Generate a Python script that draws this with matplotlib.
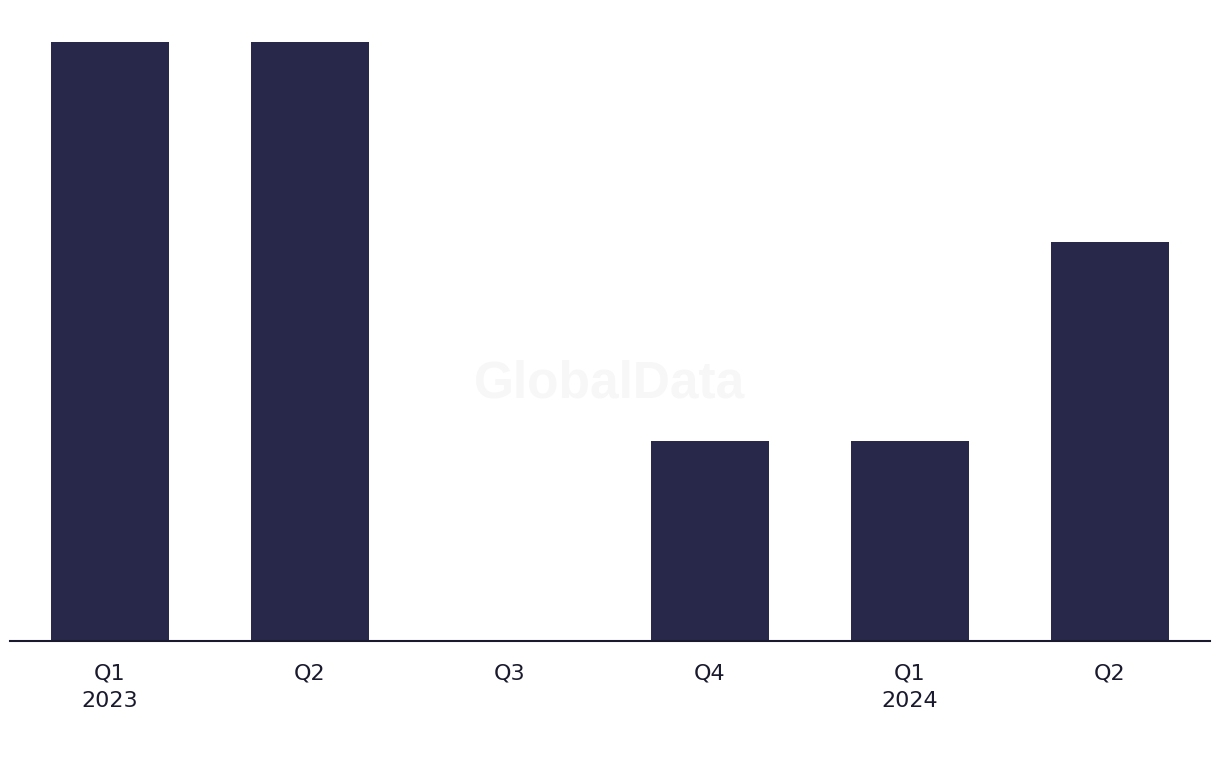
#libraries
import matplotlib
matplotlib.use("Agg")
import matplotlib.pyplot as plt

#data
quarters=["Q1\n2023","Q2","Q3","Q4","Q1\n2024","Q2"]
values=[3,3,0,1,1,2]

plt.rcParams["font.family"]=["DejaVu Sans"]

fig=plt.figure(figsize=(12.2,7.68),dpi=100)
ax=fig.add_axes([10/1220,127/768,1200/1220,599/768])
ax.bar(range(len(values)),values,width=0.59,color="#28284a")
ax.set_xlim(-0.5,len(values)-0.5)
ax.set_ylim(0,3)
ax.set_xticks(range(len(values)))
ax.set_xticklabels(quarters,fontsize=16,color="#1a1a2e",linespacing=1.5)
ax.tick_params(axis="x",length=0,pad=16)
ax.set_yticks([])
for side in ["top","left","right"]:
    ax.spines[side].set_visible(False)
ax.spines["bottom"].set_color("#1a1a2e")
ax.spines["bottom"].set_linewidth(1.5)

#watermark
fig.text(0.5,0.5,"GlobalData",fontsize=37,fontweight="bold",color="#f7f7f7",
         family="Liberation Sans",ha="center",va="center",zorder=0)

fig.savefig("out.png",dpi=100)
